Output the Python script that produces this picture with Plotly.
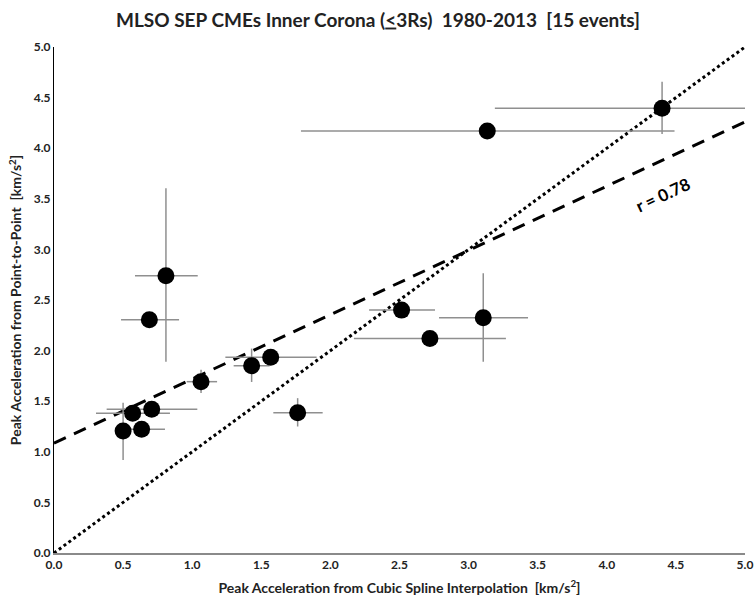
import plotly.graph_objects as go

# Peak acceleration per event [km/s^2]
spline_acc = [0.50, 0.569, 0.634, 0.707, 0.69, 0.81, 1.064, 1.43, 1.568, 1.763, 2.515, 2.72, 3.106, 3.135, 4.40]
p2p_acc = [1.205, 1.38, 1.222, 1.42, 2.305, 2.74, 1.693, 1.85, 1.934, 1.386, 2.40, 2.12, 2.325, 4.17, 4.394]

# Uncertainty ranges (low / high) for each event
spline_lo = [0.50, 0.304, 0.50, 0.381, 0.485, 0.586, 0.96, 1.30, 1.24, 1.587, 2.28, 2.17, 2.786, 1.787, 3.19]
spline_hi = [0.50, 0.839, 0.803, 1.037, 0.905, 1.04, 1.18, 1.56, 1.90, 1.944, 2.757, 3.27, 3.43, 4.49, 5.00]
p2p_lo = [0.919, 1.38, 1.222, 1.42, 2.305, 1.89, 1.58, 1.69, 1.934, 1.25, 2.40, 2.12, 1.89, 4.17, 4.14]
p2p_hi = [1.485, 1.38, 1.222, 1.42, 2.305, 3.604, 1.81, 2.02, 1.934, 1.53, 2.40, 2.12, 2.764, 4.17, 4.657]

# Linear fit and the one-to-one reference
fit_intercept = 1.085
fit_slope = 0.635
axis_range = [0.0, 5.0]
tick_vals = [0.0, 0.5, 1.0, 1.5, 2.0, 2.5, 3.0, 3.5, 4.0, 4.5, 5.0]

ex_plus = [h - v for h, v in zip(spline_hi, spline_acc)]
ex_minus = [v - l for l, v in zip(spline_lo, spline_acc)]
ey_plus = [h - v for h, v in zip(p2p_hi, p2p_acc)]
ey_minus = [v - l for l, v in zip(p2p_lo, p2p_acc)]

FONT = "Lato"
err_color = "#8f8f8f"

fig = go.Figure()

fig.add_trace(go.Scatter(
    x=axis_range, y=axis_range, mode="lines",
    line=dict(color="black", width=3, dash="dot"),
    hoverinfo="skip", showlegend=False,
))
fig.add_trace(go.Scatter(
    x=axis_range,
    y=[fit_intercept + fit_slope * v for v in axis_range],
    mode="lines",
    line=dict(color="black", width=3, dash="13px,9px"),
    hoverinfo="skip", showlegend=False,
))
fig.add_trace(go.Scatter(
    x=spline_acc, y=p2p_acc, mode="markers",
    marker=dict(color="black", size=17, line=dict(width=0)),
    error_x=dict(type="data", symmetric=False, array=ex_plus, arrayminus=ex_minus,
                 color=err_color, thickness=1.5, width=0),
    error_y=dict(type="data", symmetric=False, array=ey_plus, arrayminus=ey_minus,
                 color=err_color, thickness=1.5, width=0),
    showlegend=False,
))

fig.add_annotation(
    x=4.41, y=3.54, xref="x", yref="y", text="<b>r = 0.78</b>",
    showarrow=False, textangle=-25,
    font=dict(family=FONT, size=17, color="black"),
)

fig.update_layout(
    width=756, height=603,
    margin=dict(l=54, r=11, t=47, b=50),
    paper_bgcolor="white", plot_bgcolor="white",
    font=dict(family=FONT, color="black"),
    title=dict(
        text="<b>MLSO SEP CMEs Inner Corona (<u><</u>3Rs)  1980-2013  [15 events]</b>",
        x=0.5, xanchor="center", y=0.967, yanchor="middle",
        font=dict(family=FONT, size=19, color="#222"),
    ),
)

fig.update_xaxes(
    range=axis_range, tickvals=tick_vals, ticktext=[f"<b>{v:.1f}</b>" for v in tick_vals],
    showgrid=False, zeroline=False, showline=True, linecolor="#8a8a8a", linewidth=2,
    ticks="", tickfont=dict(family=FONT, size=12, color="#222"), automargin=False,
    title=dict(text="<b>Peak Acceleration from Cubic Spline Interpolation  [km/s<sup>2</sup>]</b>",
               font=dict(family=FONT, size=14, color="#222"), standoff=12),
)
fig.update_yaxes(
    range=axis_range, tickvals=tick_vals, ticktext=[f"<b>{v:.1f}</b>" for v in tick_vals],
    showgrid=False, zeroline=False, showline=True, linecolor="black", linewidth=1,
    ticks="", tickfont=dict(family=FONT, size=12, color="#222"), automargin=False,
    title=dict(text="<b>Peak Acceleration from Point-to-Point  [km/s<sup>2</sup>]</b>",
               font=dict(family=FONT, size=14, color="#222"), standoff=8),
)

fig.write_html("out.html")
